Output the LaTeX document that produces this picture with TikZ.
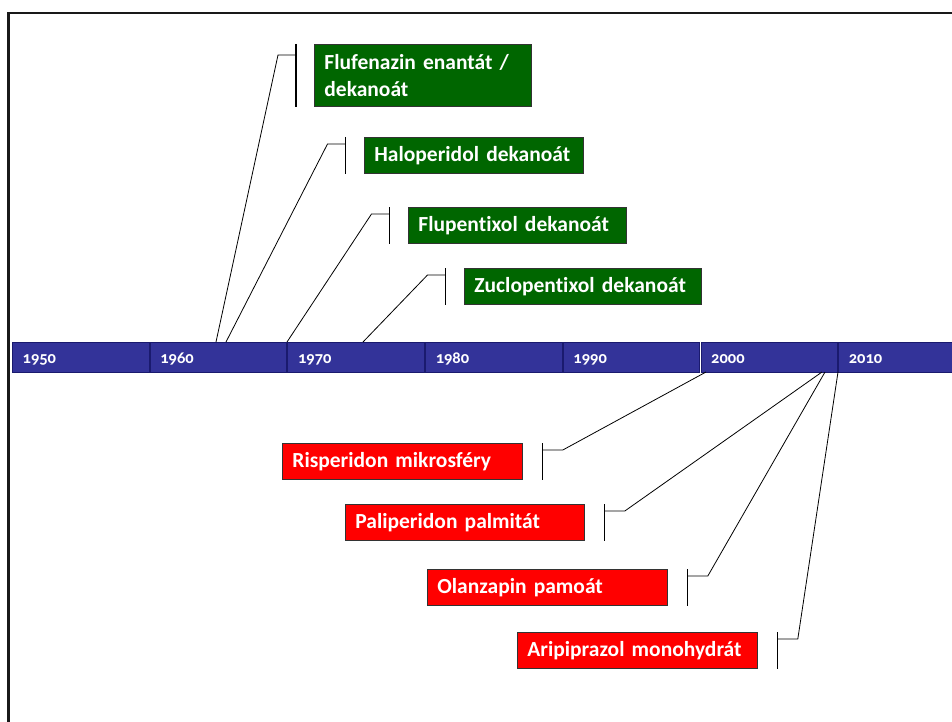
\documentclass[tikz,border=0pt]{standalone}
\usepackage{fontspec}
\setmainfont{Carlito}[Ligatures=CommonOff]
\newfontfamily\yearfont{Carlito}[Numbers=OldStyle]
\definecolor{barblue}{HTML}{333399}
\definecolor{barline}{HTML}{1A1A6E}
\definecolor{depotgreen}{HTML}{006600}
\definecolor{depotred}{HTML}{FF0000}
\begin{document}
\begin{tikzpicture}[x=1pt,y=-1pt,
  yearcell/.style={draw=barline,line width=0.8pt,fill=barblue,text=white,
    minimum height=30pt,text width=116pt,inner xsep=10pt,inner ysep=0pt,
    text height=12pt,text depth=0pt,
    align=left,anchor=north west,font=\yearfont\bfseries\fontsize{16.5}{16.5}\selectfont},
  depot/.style={draw=black!80,line width=0.8pt,text=white,minimum height=36pt,
    inner xsep=10pt,inner ysep=0pt,align=left,anchor=north west,
    font=\bfseries\fontsize{21.5}{27}\selectfont},
  oldbox/.style={depot,fill=depotgreen},
  newbox/.style={depot,fill=depotred},
  tick/.style={draw=black,line width=1.3pt},
  conn/.style={draw=black,line width=0.8pt}]
\useasboundingbox (0,0) rectangle (952,722);
% slide frame
\draw[line width=2.4pt,black!90] (8.5,730) -- (8.5,13) -- (960,13);

% decade bar
\foreach \yr [count=\i from 0] in {1950,1960,1970,1980,1990,2000,2010}
  \node[yearcell,minimum width=136.5pt] (y\yr) at ({12+137.7*\i},342) {\yr};

% attachment points on the bar
\coordinate (a1) at (216,342);
\coordinate (a2) at (226,342);
\coordinate (a3) at (287,342);
\coordinate (a4) at (363,342);
\coordinate (b1) at (706,372);
\coordinate (b2) at (822,372);
\coordinate (b3) at (825,372);
\coordinate (b4) at (838,372);

% first-generation depots
\node[oldbox,minimum height=62pt,text width=197pt] (flu) at (314,44)
  {Flufenazin enantát /\\dekanoát};
\node[oldbox,text width=199pt] (hal) at (364,137) {Haloperidol dekanoát};
\node[oldbox,text width=198pt] (flp) at (408,207) {Flupentixol dekanoát};
\node[oldbox,text width=217pt] (zuc) at (464,268) {Zuclopentixol dekanoát};

% second-generation depots
\node[newbox,text width=220pt] (ris) at (282,443) {Risperidon mikrosféry};
\node[newbox,text width=219pt] (pal) at (345,504) {Paliperidon palmitát};
\node[newbox,text width=220pt] (ola) at (427,569) {Olanzapin pamoát};
\node[newbox,text width=220pt] (ari) at (517,632) {Aripiprazol monohydrát};

% brackets and leaders, first generation
\draw[tick] ([xshift=-18pt]flu.north west) -- ([xshift=-18pt]flu.south west);
\draw[conn] ([xshift=-18pt,yshift=-11pt]flu.north west) -- ++(-18pt,0pt) -- (a1);
\foreach \n/\t in {hal/a2,flp/a3,zuc/a4}{
  \draw[tick] ([xshift=-18.5pt]\n.north west) -- ([xshift=-18.5pt]\n.south west);
  \draw[conn] ([xshift=-18.5pt,yshift=-7pt]\n.north west) -- ++(-18pt,0pt) -- (\t);
}

% brackets and leaders, second generation
\foreach \n/\t in {ris/b1,pal/b2,ola/b3,ari/b4}{
  \draw[tick] ([xshift=20pt]\n.north east) -- ([xshift=20pt]\n.south east);
  \draw[conn] ([xshift=20pt,yshift=-7pt]\n.north east) -- ++(20pt,0pt) -- (\t);
}
\end{tikzpicture}
\end{document}
